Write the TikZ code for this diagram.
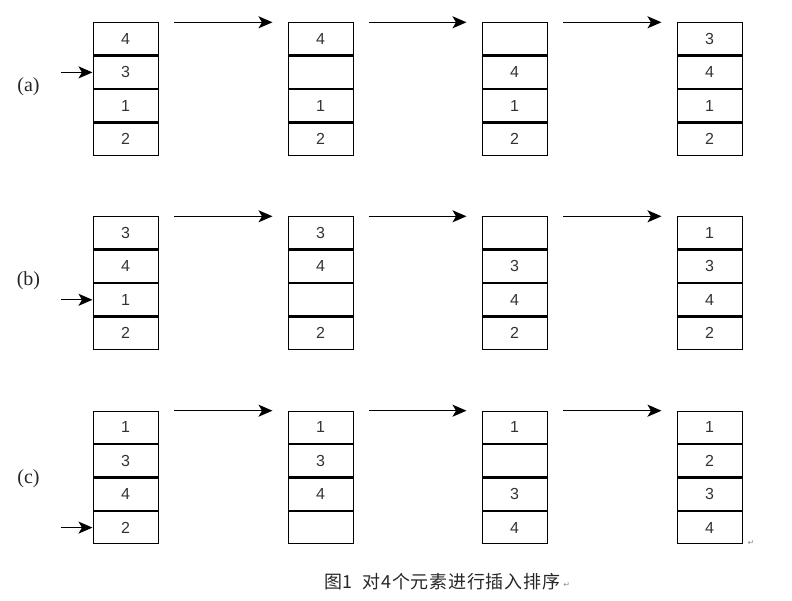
\documentclass[tikz,border=0pt]{standalone}
\usepackage{fontspec}
\setmainfont{Liberation Serif}
\newfontfamily\digitfont{Liberation Sans}
\newfontfamily\cjk[LetterSpace=4]{Noto Sans CJK SC}
\newfontfamily\symfont{DejaVu Sans}
\usetikzlibrary{arrows.meta}
\newcommand\drawstack[7]{%
  \node[cell] (#1-1) at (#2,#3) {#4};
  \node[cell] (#1-2) at (#1-1.south west) {#5};
  \node[cell] (#1-3) at (#1-2.south west) {#6};
  \node[cell] (#1-4) at (#1-3.south west) {#7};
}
\begin{document}
\begin{tikzpicture}[x=1pt,y=-1pt,
  cell/.style={draw, line width=1.2pt, minimum width=65pt, minimum height=32.2pt,
    inner sep=0pt, anchor=north west, font=\digitfont\fontsize{16}{16}\selectfont, text=black!80},
  flow/.style={line width=1.4pt, -{Stealth[length=14pt,width=12pt,inset=3.5pt]}},
  lbl/.style={font=\fontsize{20}{20}\selectfont, text=black!85},
  retmark/.style={font=\symfont\fontsize{8}{8}\selectfont, text=black!45}]
\useasboundingbox (0,0) rectangle (792,601);
% row (a)
\drawstack{a1}{92.5}{22.3}{4}{3}{1}{2}
\drawstack{a2}{287.5}{22.3}{4}{}{1}{2}
\drawstack{a3}{481.5}{22.3}{}{4}{1}{2}
\drawstack{a4}{676.5}{22.3}{3}{4}{1}{2}
% row (b)
\drawstack{b1}{92.5}{216.3}{3}{4}{1}{2}
\drawstack{b2}{287.5}{216.3}{3}{4}{}{2}
\drawstack{b3}{481.5}{216.3}{}{3}{4}{2}
\drawstack{b4}{676.5}{216.3}{1}{3}{4}{2}
% row (c)
\drawstack{c1}{92.5}{410.7}{1}{3}{4}{2}
\drawstack{c2}{287.5}{410.7}{1}{3}{4}{}
\drawstack{c3}{481.5}{410.7}{1}{}{3}{4}
\drawstack{c4}{676.5}{410.7}{1}{2}{3}{4}
% step arrows
\foreach \r in {a,b,c}{
  \foreach \i/\j in {1/2,2/3,3/4}{
    \draw[flow] ([xshift=15.5pt]\r\i-1.north east) -- ([xshift=-15pt]\r\j-1.north west);
  }
}
% input arrows
\draw[flow] ([xshift=-31.5pt]a1-2.west) coordinate (ina) -- (a1-2.west);
\draw[flow] ([xshift=-31.5pt]b1-3.west) coordinate (inb) -- (b1-3.west);
\draw[flow] ([xshift=-31.5pt]c1-4.west) coordinate (inc) -- (c1-4.west);
% labels
\node[lbl] (la) at (28.5,86.5) {(a)};
\node[lbl] (lb) at (28.5,281) {(b)};
\node[lbl] (lc) at (28.5,479) {(c)};
% caption
\node[font=\cjk\fontsize{18}{18}\selectfont, text=black!85, inner sep=0pt, anchor=west] (cap) at (324,582) {图1\hspace{0.55em}对4个元素进行插入排序};
\node[retmark, anchor=west, inner sep=0pt] (capmark) at ([xshift=3pt,yshift=-3pt]cap.east) {↵};
\node[retmark] (endmark) at (751,543) {↵};
\end{tikzpicture}
\end{document}
